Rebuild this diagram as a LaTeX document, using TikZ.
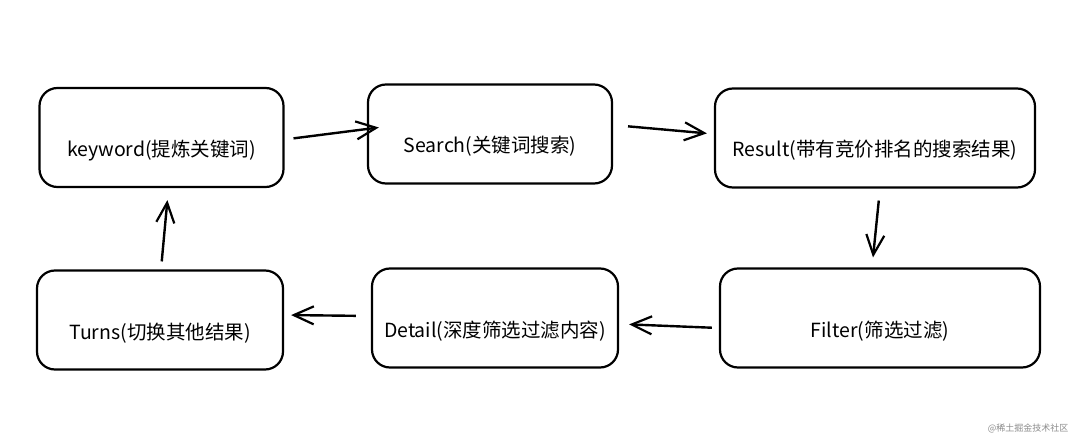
\documentclass[tikz,border=0pt]{standalone}
\usepackage{fontspec}
\setmainfont{Noto Sans CJK SC}
\newfontfamily\wmfont{Noto Sans CJK SC}
\usetikzlibrary{arrows.meta}
\begin{document}
\begin{tikzpicture}[x=1pt,y=-1pt,
  box/.style={draw=black,line width=2.2pt,rounded corners=18pt,minimum width=#1,minimum height=99pt,inner sep=0pt,text height=38pt,text depth=0pt,font=\fontsize{19.5}{22}\selectfont},
  box/.default=244pt,
  flow/.style={draw=black,line width=2.4pt,-{Straight Barb[length=20pt,width=18pt,line width=2.2pt]}}]
\useasboundingbox[fill=white] (0,0) rectangle (1080,441);
\node[box] (kw) at (161.5,137.5) {keyword(提炼关键词)};
\node[box] (se) at (490,134) {Search(关键词搜索)};
\node[box=320pt] (re) at (875,138) {Result(带有竞价排名的搜索结果)};
\node[box=320pt] (fi) at (880,318) {Filter(筛选过滤)};
\node[box=246pt] (de) at (495,318) {Detail(深度筛选过滤内容)};
\node[box=246pt] (tu) at (160,320) {Turns(切换其他结果)};
\node[font=\wmfont\fontsize{9}{10}\selectfont,text=black!45,anchor=east] (wm) at (1072,428) {@稀土掘金技术社区};
\draw[flow,shorten <=9pt,shorten >=-12pt] ([yshift=-2pt]kw.east) -- ([yshift=5pt]se.west);
\draw[flow,shorten <=15pt,shorten >=7pt] ([yshift=9pt]se.east) -- ([yshift=4pt]re.west);
\draw[flow,shorten <=12pt,shorten >=10pt] ([xshift=5pt]re.south) -- ([xshift=-8pt]fi.north);
\draw[flow,shorten <=7pt,shorten >=10pt] ([yshift=-10pt]fi.west) -- ([yshift=-6pt]de.east);
\draw[flow,shorten <=15pt,shorten >=7pt] ([yshift=2pt]de.west) -- ([yshift=5pt]tu.east);
\draw[flow,shorten <=8pt,shorten >=12pt] ([xshift=1pt]tu.north) -- ([xshift=7pt]kw.south);
\end{tikzpicture}
\end{document}
